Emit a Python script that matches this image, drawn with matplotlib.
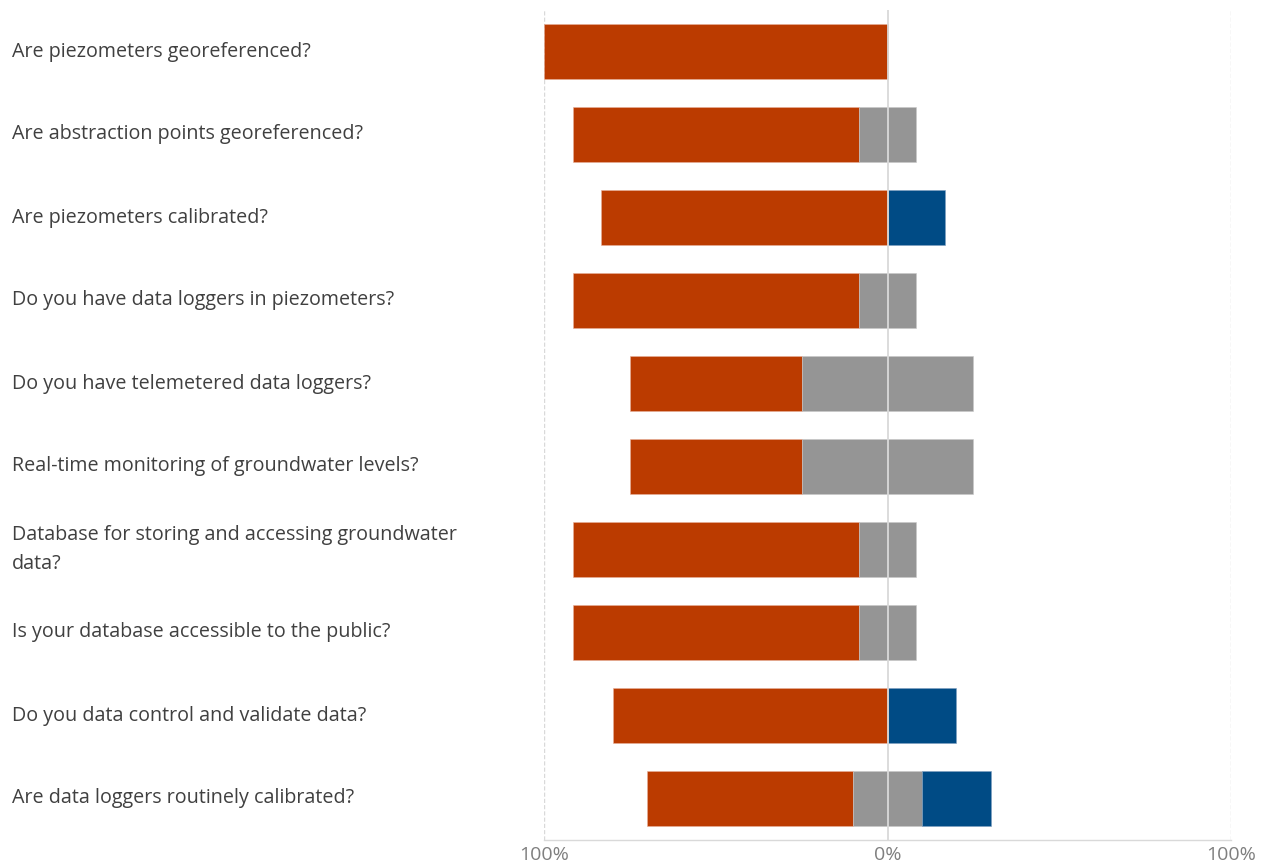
import matplotlib.pyplot as plt
import matplotlib.transforms as mtransforms

RED = "#BB3B00"
GREY = "#959595"
BLUE = "#004B85"
GRID = "#D9D9D9"

questions = [
    "Are piezometers georeferenced?",
    "Are abstraction points georeferenced?",
    "Are piezometers calibrated?",
    "Do you have data loggers in piezometers?",
    "Do you have telemetered data loggers?",
    "Real-time monitoring of groundwater levels?",
    "Database for storing and accessing groundwater\ndata?",
    "Is your database accessible to the public?",
    "Do you data control and validate data?",
    "Are data loggers routinely calibrated?",
]
# share of answers (%) per question
no_pct = [100, 83.3, 83.3, 83.3, 50, 50, 83.3, 83.3, 80, 60]
partly_pct = [0, 16.7, 0, 16.7, 50, 50, 16.7, 16.7, 0, 20]
yes_pct = [0, 0, 16.7, 0, 0, 0, 0, 0, 20, 20]

plt.rcParams["font.family"] = ["Open Sans", "DejaVu Sans"]

fig = plt.figure(figsize=(12.61, 8.67), dpi=100)
ax = fig.add_axes([544 / 1261, 27 / 867, 687 / 1261, 830 / 867])

ypos = list(range(len(questions)))
h = 0.67
for y, n, p, s in zip(ypos, no_pct, partly_pct, yes_pct):
    half = p / 2
    ax.barh(y, -n, left=-half, height=h, color=RED, edgecolor="#E8B09A", lw=0.4, zorder=2)
    if p:
        ax.barh(y, p, left=-half, height=h, color=GREY, edgecolor="#C8C8C8", lw=0.4, zorder=2)
    if s:
        ax.barh(y, s, left=half, height=h, color=BLUE, edgecolor="#7FA0C0", lw=0.4, zorder=2)

# centre line sits on top of the bars
ax.axvline(0, color=GRID, lw=1.3, zorder=3)
for x in (-100, 100):
    ax.axvline(x, color=GRID, lw=1.0, ls=(0, (3, 1.5)), zorder=1)

ax.set_xlim(-100, 100)
ax.set_ylim(len(questions) - 0.5, -0.5)
ax.set_yticks([])
ax.set_xticks([-100, 0, 100])
ax.set_xticklabels(["100%", "0%", "100%"], fontsize=14, color="#7F7F7F")
ax.tick_params(axis="x", length=0, pad=4)
for side in ("top", "right", "left"):
    ax.spines[side].set_visible(False)
ax.spines["bottom"].set_color(GRID)
ax.spines["bottom"].set_linewidth(1.0)

trans = mtransforms.blended_transform_factory(fig.transFigure, ax.transData)
for y, q in zip(ypos, questions):
    ax.text(12 / 1261, y, q, transform=trans, ha="left", va="center",
            fontsize=14.2, color="#404040", linespacing=1.65, clip_on=False)

fig.savefig("out.png", dpi=100)
